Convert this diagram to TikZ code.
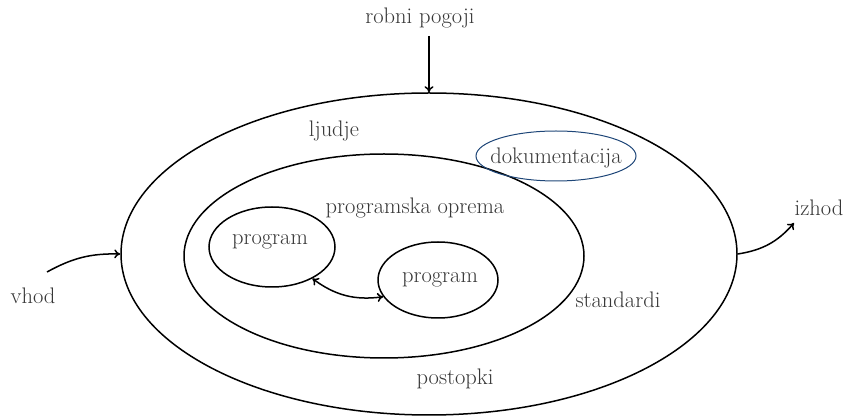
\documentclass[tikz,border=0pt]{standalone}
\usetikzlibrary{arrows.meta,shapes.geometric}
\definecolor{docblue}{RGB}{30,70,120}
\definecolor{txt}{RGB}{55,55,55}
\begin{document}
\begin{tikzpicture}[x=1pt,y=-1pt,
  lbl/.style={text=txt,font=\fontsize{22.5}{27}\selectfont,inner sep=0pt},
  conn/.style={line width=1.5pt,-{To[length=6pt,width=9pt]}}]
\useasboundingbox (0,0) rectangle (849,419);
\node[draw,ellipse,line width=1.5pt,minimum width=616pt,minimum height=322pt,inner sep=0pt] (outer) at (429,254) {};
\node[draw,ellipse,line width=1.5pt,minimum width=400pt,minimum height=204pt,inner sep=0pt] (inner) at (384,256) {};
\node[draw,ellipse,line width=1.5pt,minimum width=126pt,minimum height=80pt,inner sep=0pt] (p1) at (272,247) {};
\node[draw,ellipse,line width=1.5pt,minimum width=120pt,minimum height=76pt,inner sep=0pt] (p2) at (438,280) {};
\node[lbl] at (270,242) {program};
\node[lbl] at (440,280) {program};
\node[draw=docblue,ellipse,line width=1pt,minimum width=160pt,minimum height=50pt,inner sep=0pt] (doc) at (556,156) {};
\node[lbl] at (556,158) {dokumentacija};
\node[lbl] at (334,131) {ljudje};
\node[lbl] at (415,208) {programska oprema};
\node[lbl] at (618,300) {standardi};
\node[lbl] at (455,379) {postopki};
\node[lbl] (rp) at (420,18) {robni pogoji};
\node[lbl] (vh) at (33,296) {vhod};
\node[lbl] (iz) at (819,208) {izhod};
\coordinate (rps) at (429,36);
\coordinate (vhs) at (47,272);
\coordinate (izs) at (794,223);
\draw[conn] (rps) -- (outer.north);
\draw[conn] (vhs) to[bend left=15] (outer.west);
\draw[conn] (outer.east) to[bend right=20] (izs);
\draw[line width=1.5pt,{To[length=6pt,width=9pt]}-{To[length=6pt,width=9pt]}] (p1.-38) to[bend right=22] (p2.197);
\end{tikzpicture}
\end{document}
